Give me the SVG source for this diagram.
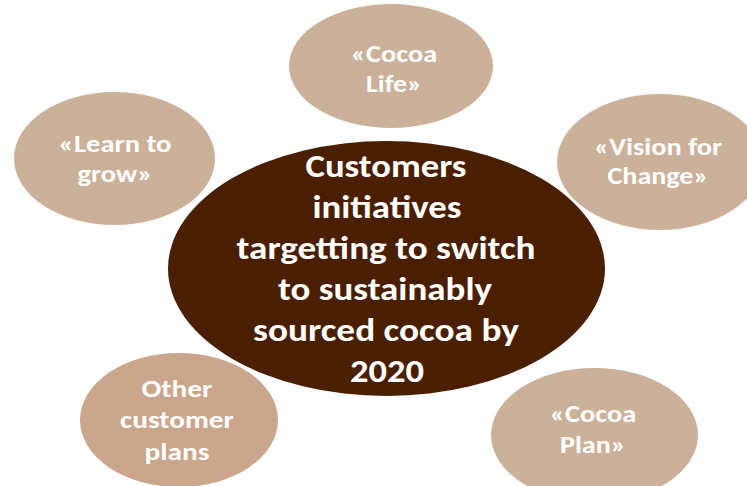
<svg xmlns="http://www.w3.org/2000/svg" width="747" height="486" viewBox="0 0 747 486">
  <style>
    .sat { fill: #CCB19A; }
    .sat-alt { fill: #C9A68C; }
    .hub { fill: #4A1F00; }
    text { font-family: Carlito, Lato, "Liberation Sans", sans-serif; font-weight: bold; fill: #FFFFFF; text-anchor: middle; }
    .small { font-size: 25px; }
    .big { font-size: 32.5px; }
  </style>

  <rect width="747" height="486" fill="#FFFFFF"/>

  <!-- satellite initiatives -->
  <g id="cocoa-life">
    <ellipse class="sat" cx="391" cy="66" rx="102" ry="62"/>
    <text class="small" x="394" y="62" textLength="86.5" lengthAdjust="spacingAndGlyphs">«Cocoa</text>
    <text class="small" x="394" y="92" textLength="56" lengthAdjust="spacingAndGlyphs">Life»</text>
  </g>

  <g id="learn-to-grow">
    <ellipse class="sat" cx="114.5" cy="158.5" rx="100.5" ry="66.5"/>
    <text class="small" x="115" y="152" textLength="113" lengthAdjust="spacingAndGlyphs">«Learn to</text>
    <text class="small" x="115" y="182" textLength="75" lengthAdjust="spacingAndGlyphs">grow»</text>
  </g>

  <g id="vision-for-change">
    <ellipse class="sat" cx="660" cy="162" rx="103" ry="68"/>
    <text class="small" x="658" y="155" textLength="128" lengthAdjust="spacingAndGlyphs">«Vision for</text>
    <text class="small" x="658" y="184" textLength="101" lengthAdjust="spacingAndGlyphs">Change»</text>
  </g>

  <g id="cocoa-plan">
    <ellipse class="sat" cx="594.5" cy="435" rx="103.5" ry="67"/>
    <text class="small" x="593" y="422" textLength="86.5" lengthAdjust="spacingAndGlyphs">«Cocoa</text>
    <text class="small" x="593" y="453" textLength="66" lengthAdjust="spacingAndGlyphs">Plan»</text>
  </g>

  <g id="other-plans">
    <ellipse class="sat-alt" cx="179" cy="420" rx="99" ry="67"/>
    <text class="small" x="177" y="397" textLength="71" lengthAdjust="spacingAndGlyphs">Other</text>
    <text class="small" x="177" y="428" textLength="114" lengthAdjust="spacingAndGlyphs">customer</text>
    <text class="small" x="177" y="460" textLength="65" lengthAdjust="spacingAndGlyphs">plans</text>
  </g>

  <!-- central goal, drawn last so it sits over the neighbouring ellipse -->
  <g id="customers-initiatives">
    <ellipse class="hub" cx="386.5" cy="268.5" rx="218.5" ry="127.5"/>
    <text class="big" x="386" y="177" textLength="161" lengthAdjust="spacingAndGlyphs">Customers</text>
    <text class="big" x="387" y="218" textLength="149" lengthAdjust="spacingAndGlyphs">initiatives</text>
    <text class="big" x="386" y="259" textLength="299" lengthAdjust="spacingAndGlyphs">targetting to switch</text>
    <text class="big" x="385" y="300" textLength="214" lengthAdjust="spacingAndGlyphs">to sustainably</text>
    <text class="big" x="386" y="341" textLength="266" lengthAdjust="spacingAndGlyphs">sourced cocoa by</text>
    <text class="big" x="387" y="382" textLength="74" lengthAdjust="spacingAndGlyphs">2020</text>
  </g>
</svg>
